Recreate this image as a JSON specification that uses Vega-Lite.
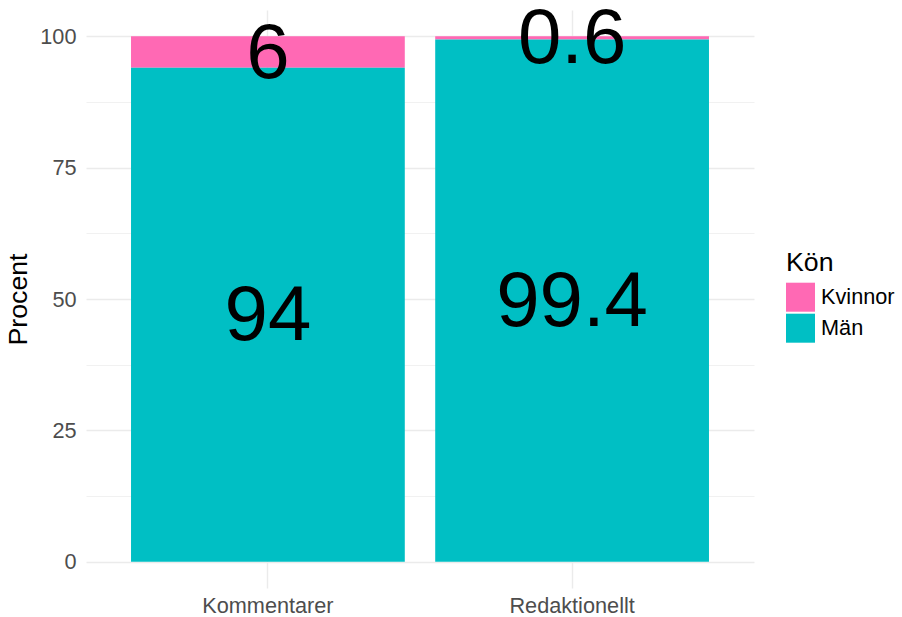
{
  "$schema": "https://vega.github.io/schema/vega-lite/v6.json",
  "width": 668,
  "height": 578,
  "autosize": {"type": "none"},
  "padding": {"left": 86, "top": 10, "right": 148, "bottom": 29},
  "background": "white",
  "config": {
    "font": "Liberation Sans",
    "view": {"stroke": null}
  },
  "data": {
    "values": [
      {"Typ": "Kommentarer", "Kön": "Kvinnor", "Procent": 6},
      {"Typ": "Kommentarer", "Kön": "Män", "Procent": 94},
      {"Typ": "Redaktionellt", "Kön": "Kvinnor", "Procent": 0.6},
      {"Typ": "Redaktionellt", "Kön": "Män", "Procent": 99.4}
    ]
  },
  "transform": [
    {"stack": "Procent", "groupby": ["Typ"], "sort": [{"field": "Kön", "order": "descending"}], "as": ["y0", "y1"]},
    {"calculate": "(datum.y0 + datum.y1) / 2", "as": "mid"}
  ],
  "encoding": {
    "x": {
      "field": "Typ",
      "type": "nominal",
      "scale": {"paddingInner": 0.1, "paddingOuter": 0.148},
      "axis": {
        "title": null,
        "labelAngle": 0,
        "domain": false,
        "ticks": false,
        "grid": true,
        "gridColor": "#ebebeb",
        "gridWidth": 1.4,
        "bandPosition": 0.5,
        "labelFontSize": 21.7,
        "labelColor": "#4d4d4d",
        "labelPadding": 7
      }
    }
  },
  "layer": [
    {
      "mark": {"type": "bar"},
      "encoding": {
        "y": {
          "field": "y0",
          "type": "quantitative",
          "scale": {"domain": [-5, 105], "nice": false, "zero": false},
          "axis": {
            "title": "Procent",
            "titleFontSize": 26.7,
            "titleFontWeight": "normal",
            "titleColor": "black",
            "titlePadding": 7,
            "values": [0, 12.5, 25, 37.5, 50, 62.5, 75, 87.5, 100],
            "labelExpr": "datum.value % 25 === 0 ? datum.label : ''",
            "domain": false,
            "ticks": false,
            "grid": true,
            "gridColor": "#ebebeb",
            "gridWidth": {"condition": {"test": "datum.value % 25 !== 0", "value": 0.7}, "value": 1.4},
            "labelFontSize": 21.7,
            "labelColor": "#4d4d4d",
            "labelPadding": 10
          }
        },
        "y2": {"field": "y1"},
        "color": {
          "field": "Kön",
          "type": "nominal",
          "scale": {"domain": ["Kvinnor", "Män"], "range": ["#FF69B4", "#00BFC4"]},
          "legend": {
            "title": "Kön",
            "orient": "none",
            "legendX": 700,
            "legendY": 240,
            "titleFontSize": 26.7,
            "titleFontWeight": "normal",
            "titleColor": "black",
            "titlePadding": 6,
            "symbolType": "square",
            "symbolSize": 841,
            "symbolStrokeWidth": 0,
            "symbolOpacity": 1,
            "labelFontSize": 21.7,
            "labelColor": "black",
            "labelOffset": 6,
            "rowPadding": 2
          }
        }
      }
    },
    {
      "mark": {"type": "text", "fontSize": 78, "color": "black", "baseline": "middle", "align": "center", "dy": 2.5},
      "encoding": {
        "y": {"field": "mid", "type": "quantitative"},
        "text": {"field": "Procent", "type": "quantitative"}
      }
    }
  ]
}
